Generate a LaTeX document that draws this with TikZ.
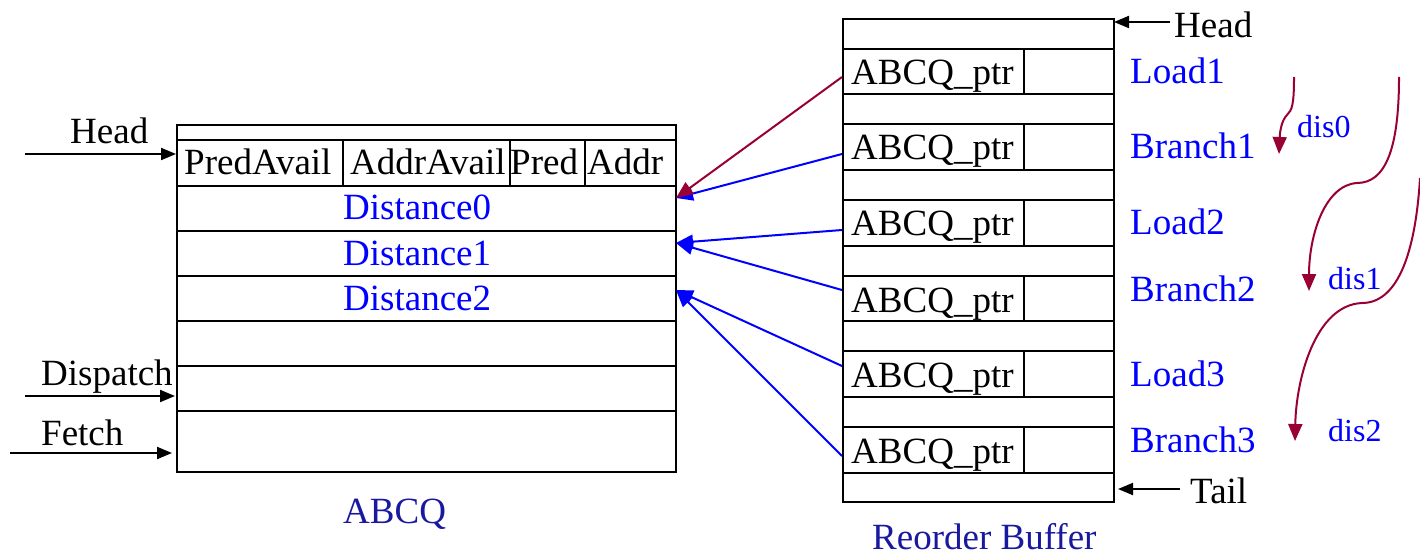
\documentclass[tikz,border=0pt]{standalone}
\usepackage{fontspec}
\setmainfont{Liberation Serif}
\usetikzlibrary{arrows.meta}
\definecolor{dred}{RGB}{153,0,51}
\definecolor{pblue}{RGB}{0,0,255}
\definecolor{navyl}{RGB}{25,25,160}
\begin{document}
\begin{tikzpicture}[x=1pt,y=-1pt,
  cell/.style={draw=black,line width=2pt,rectangle,inner sep=0pt,anchor=north west},
  txt/.style={inner sep=0pt,anchor=base west,font=\fontsize{37}{44}\selectfont},
  btxt/.style={txt,text=pblue},
  stxt/.style={inner sep=0pt,anchor=base west,font=\fontsize{32}{38}\selectfont,text=pblue},
  ntxt/.style={txt,text=navyl},
  blk/.style={line width=2pt,-{Triangle[length=15pt,width=12pt]}},
  bluearr/.style={draw=pblue,line width=2pt,-{Triangle[length=17pt,width=14pt]}},
  redarr/.style={draw=dred,line width=2pt,-{Triangle[length=17pt,width=14pt]}}]
\useasboundingbox (0,0) rectangle (1420,556);
% ---------- ABCQ ----------
\node[cell,minimum width=499pt,minimum height=15pt] (q0) at (176,124) {};
\node[cell,minimum width=166pt,minimum height=46pt] (qh1) at (176,139) {};
\node[cell,minimum width=167pt,minimum height=46pt] (qh2) at (342,139) {};
\node[cell,minimum width=75pt,minimum height=46pt] (qh3) at (509,139) {};
\node[cell,minimum width=91pt,minimum height=46pt] (qh4) at (584,139) {};
\node[cell,minimum width=499pt,minimum height=45pt] (qd0) at (176,185) {};
\node[cell,minimum width=499pt,minimum height=45pt] (qd1) at (176,230) {};
\node[cell,minimum width=499pt,minimum height=45pt] (qd2) at (176,275) {};
\node[cell,minimum width=499pt,minimum height=45pt] (qe1) at (176,320) {};
\node[cell,minimum width=499pt,minimum height=45pt] (qe2) at (176,365) {};
\node[cell,minimum width=499pt,minimum height=61pt] (qe3) at (176,410) {};
\node[txt] (tpa) at (184,175) {PredAvail};
\node[txt] (taa) at (350,175) {AddrAvail};
\node[txt] (tpr) at (510,175) {Pred};
\node[txt] (tad) at (587,175) {Addr};
\node[btxt] (td0) at (343,219) {Distance0};
\node[btxt] (td1) at (343,265) {Distance1};
\node[btxt] (td2) at (343,310) {Distance2};
\node[ntxt] (tabcq) at (343,523) {ABCQ};
% left pointers
\node[txt] (lhead) at (70,144) {Head};
\node[txt] (ldisp) at (41,385) {Dispatch};
\node[txt] (lfetch) at (41,445) {Fetch};
\coordinate (hs) at (25,154);
\coordinate (he) at (176,154);
\coordinate (ds) at (25,396);
\coordinate (de) at (175,396);
\coordinate (fs) at (10,453);
\coordinate (fe) at (172,453);
\draw[blk] (hs) -- (he);
\draw[blk] (ds) -- (de);
\draw[blk] (fs) -- (fe);
% ---------- Reorder Buffer ----------
\node[cell,minimum width=271pt,minimum height=30pt] (r0) at (842,18) {};
\node[cell,minimum width=181pt,minimum height=45pt] (p1) at (842,48) {};
\node[cell,minimum width=90pt,minimum height=45pt] (v1) at (1023,48) {};
\node[cell,minimum width=271pt,minimum height=30pt] (r1) at (842,93) {};
\node[cell,minimum width=181pt,minimum height=46pt] (p2) at (842,123) {};
\node[cell,minimum width=90pt,minimum height=46pt] (v2) at (1023,123) {};
\node[cell,minimum width=271pt,minimum height=30pt] (r2) at (842,169) {};
\node[cell,minimum width=181pt,minimum height=46pt] (p3) at (842,199) {};
\node[cell,minimum width=90pt,minimum height=46pt] (v3) at (1023,199) {};
\node[cell,minimum width=271pt,minimum height=30pt] (r3) at (842,245) {};
\node[cell,minimum width=181pt,minimum height=45pt] (p4) at (842,275) {};
\node[cell,minimum width=90pt,minimum height=45pt] (v4) at (1023,275) {};
\node[cell,minimum width=271pt,minimum height=30pt] (r4) at (842,320) {};
\node[cell,minimum width=181pt,minimum height=46pt] (p5) at (842,350) {};
\node[cell,minimum width=90pt,minimum height=46pt] (v5) at (1023,350) {};
\node[cell,minimum width=271pt,minimum height=30pt] (r5) at (842,396) {};
\node[cell,minimum width=181pt,minimum height=46pt] (p6) at (842,426) {};
\node[cell,minimum width=90pt,minimum height=46pt] (v6) at (1023,426) {};
\node[cell,minimum width=271pt,minimum height=29pt] (r6) at (842,472) {};
\node[txt] (tp1) at (851,85) {ABCQ\_ptr};
\node[txt] (tp2) at (851,160) {ABCQ\_ptr};
\node[txt] (tp3) at (851,235) {ABCQ\_ptr};
\node[txt] (tp4) at (851,312) {ABCQ\_ptr};
\node[txt] (tp5) at (851,387) {ABCQ\_ptr};
\node[txt] (tp6) at (851,463) {ABCQ\_ptr};
\node[ntxt] (trob) at (872,549) {Reorder Buffer};
% labels right
\node[btxt] (ll1) at (1130,84) {Load1};
\node[btxt] (lb1) at (1130,159) {Branch1};
\node[btxt] (ll2) at (1130,234) {Load2};
\node[btxt] (lb2) at (1130,301) {Branch2};
\node[btxt] (ll3) at (1130,386) {Load3};
\node[btxt] (lb3) at (1130,452) {Branch3};
\node[txt] (lrh) at (1174,38) {Head};
\node[txt] (lrt) at (1190,503) {Tail};
\coordinate (rhs) at (1170,22);
\coordinate (rhe) at (1114,22);
\coordinate (rts) at (1180,489);
\coordinate (rte) at (1118,489);
\draw[blk] (rhs) -- (rhe);
\draw[blk] (rts) -- (rte);
% distance labels
\node[stxt] (dis0) at (1297,138) {dis0};
\node[stxt] (dis1) at (1328,289) {dis1};
\node[stxt] (dis2) at (1328,441) {dis2};
% ---------- connectors ----------
\coordinate (a0) at (676,198);
\coordinate (a1) at (676,243);
\coordinate (a2) at (676,290);
\coordinate (s1) at (842,77);
\coordinate (s2) at (842,154);
\coordinate (s3) at (842,230);
\coordinate (s4) at (842,290);
\coordinate (s5) at (842,366);
\coordinate (s6) at (842,456);
\draw[bluearr] (s2) -- (a0);
\draw[redarr] (s1) -- (a0);
\draw[bluearr] (s3) -- (a1);
\draw[bluearr] (s4) -- (a1);
\draw[bluearr] (s5) -- (a2);
\draw[bluearr] (s6) -- (a2);
% ---------- distance curves ----------
\coordinate (c0s) at (1294,77);
\coordinate (c0e) at (1279,154);
\coordinate (c1s) at (1399,77);
\coordinate (c1e) at (1309,291);
\coordinate (c2s) at (1420,178);
\coordinate (c2e) at (1295,441);
\draw[redarr] (c0s) .. controls (1294,105) and (1292,110) .. (1287,115)
  .. controls (1282,120) and (1280,130) .. (c0e);
\draw[redarr] (c1s) .. controls (1399,150) and (1385,183) .. (1357,183)
  .. controls (1325,185) and (1309,235) .. (c1e);
\draw[redarr] (c2s) .. controls (1415,260) and (1395,303) .. (1362,303)
  .. controls (1315,305) and (1296,380) .. (c2e);
\end{tikzpicture}
\end{document}
